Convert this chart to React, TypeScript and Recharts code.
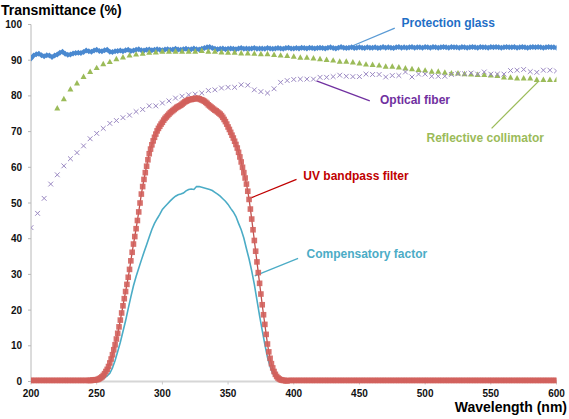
import { LineChart, Line, XAxis, YAxis, ReferenceLine } from "recharts";

// wavelength ticks and transmittance ticks
const xTicks = [200, 250, 300, 350, 400, 450, 500, 550, 600];
const yTicks = [0, 10, 20, 30, 40, 50, 60, 70, 80, 90, 100];

// Protection glass, 200-600 nm every 2 nm
const GLASS_START = 200;
const GLASS_STEP = 2;
const glassValues = [
  90.5, 91.3, 91.7, 91.8, 91.4, 91.1, 91.4, 91.3, 90.9, 91.3,
  91.6, 92.1, 92.4, 91.8, 91.5, 91.6, 91.9, 92.0, 92.1, 92.0,
  92.3, 92.7, 92.5, 92.4, 92.7, 92.9, 92.6, 92.5, 92.8, 92.9,
  92.4, 92.3, 92.5, 92.6, 92.7, 92.5, 92.8, 92.9, 92.6, 92.7,
  92.9, 93.1, 92.8, 92.7, 92.9, 93.0, 92.8, 92.9, 93.1, 92.9,
  92.8, 93.0, 93.1, 92.9, 93.0, 93.2, 93.0, 92.9, 93.1, 93.2,
  93.0, 93.1, 93.3, 93.1, 93.0, 93.2, 93.4, 93.6, 93.7, 93.4,
  93.2, 93.1, 93.2, 93.3, 93.1, 93.2, 93.3, 93.2, 93.1, 93.3,
  93.4, 93.2, 93.3, 93.2, 93.3, 93.4, 93.2, 93.3, 93.3, 93.2,
  93.4, 93.3, 93.2, 93.3, 93.4, 93.3, 93.2, 93.4, 93.5, 93.3,
  93.3, 93.4, 93.3, 93.5, 93.4, 93.3, 93.5, 93.4, 93.3, 93.4,
  93.5, 93.4, 93.3, 93.5, 93.6, 93.4, 93.3, 93.5, 93.7, 93.5,
  93.4, 93.5, 93.6, 93.4, 93.5, 93.6, 93.5, 93.4, 93.6, 93.5,
  93.5, 93.6, 93.4, 93.5, 93.7, 93.5, 93.6, 93.5, 93.4, 93.6,
  93.7, 93.5, 93.6, 93.5, 93.6, 93.7, 93.5, 93.6, 93.6, 93.5,
  93.7, 93.6, 93.5, 93.7, 93.6, 93.5, 93.6, 93.7, 93.6, 93.5,
  93.7, 93.6, 93.6, 93.5, 93.7, 93.6, 93.5, 93.6, 93.7, 93.6,
  93.5, 93.7, 93.6, 93.6, 93.5, 93.7, 93.6, 93.7, 93.6, 93.5,
  93.6, 93.7, 93.6, 93.6, 93.7, 93.5, 93.6, 93.7, 93.6, 93.5,
  93.6, 93.7, 93.6, 93.7, 93.6, 93.5, 93.6, 93.7, 93.6, 93.6,
  93.5,
];

// Reflective collimator, 220-600 nm every 5 nm
const COLL_START = 220;
const COLL_STEP = 5;
const collimatorValues = [
  76.6, 79.2, 81.9, 83.6, 85.4, 86.8, 87.9, 89.0, 89.6, 90.4,
  90.9, 91.4, 91.7, 91.9, 92.2, 92.3, 92.5, 92.5, 92.5, 92.5,
  92.5, 92.5, 92.7, 92.5, 92.5, 92.3, 92.2, 92.2, 92.0, 92.0,
  91.9, 91.8, 91.8, 91.6, 91.4, 91.3, 91.1, 90.8, 90.8, 90.6,
  90.4, 90.2, 90.0, 89.7, 89.7, 89.5, 89.2, 88.9, 88.8, 88.6,
  88.3, 88.3, 88.1, 87.8, 87.6, 87.4, 87.2, 86.9, 86.9, 86.6,
  86.4, 86.4, 86.2, 86.1, 86.0, 86.0, 85.8, 85.7, 85.3, 85.2,
  85.0, 85.0, 85.0, 84.6, 84.6, 84.6, 84.6,
];

// Optical fiber, 200-600 nm every 5 nm
const FIBER_START = 200;
const FIBER_STEP = 5;
const fiberValues = [
  43.1, 47.1, 51.3, 55.3, 57.9, 60.4, 62.4, 64.1, 66.0, 68.0,
  69.5, 70.9, 72.3, 73.1, 73.9, 74.6, 75.6, 76.2, 77.2, 77.2,
  78.0, 78.6, 79.4, 79.9, 80.3, 80.5, 80.8, 81.5, 81.7, 82.2,
  82.4, 82.4, 83.1, 83.0, 81.7, 81.2, 80.8, 82.0, 83.8, 84.3,
  84.6, 84.7, 84.7, 84.7, 85.2, 85.2, 85.4, 85.8, 85.5, 85.4,
  85.4, 86.1, 86.0, 86.0, 85.3, 85.7, 85.7, 86.7, 85.3, 86.1,
  86.1, 85.5, 85.5, 85.5, 86.0, 86.2, 86.2, 86.4, 86.1, 86.7,
  86.1, 86.1, 86.1, 87.1, 87.2, 87.4, 86.8, 86.6, 87.2, 87.2,
  87.0,
];

// UV bandpass filter: 200-244 every 2 nm, 245-395 every 1 nm, 396-600 every 2 nm
const uvLowValues = [
  0.3, 0.3, 0.3, 0.3, 0.3, 0.3, 0.3, 0.3, 0.3, 0.3, 0.3, 0.3,
  0.3, 0.3, 0.3, 0.3, 0.3, 0.3, 0.3, 0.3, 0.3, 0.3, 0.3,
];
const uvBandValues = [
  0.3, 0.3, 0.4, 0.4, 0.5, 0.5, 0.6, 0.8, 1.0, 1.3,
  1.7, 2.2, 2.8, 3.4, 4.2, 5.2, 6.3, 7.5, 8.9, 10.3,
  11.9, 13.5, 15.3, 17.2, 19.2, 21.2, 23.2, 25.2, 27.2, 29.2,
  31.4, 33.8, 36.2, 38.5, 40.6, 42.8, 45.1, 47.5, 50.0, 52.5,
  54.6, 56.6, 58.5, 60.3, 62.1, 63.8, 65.1, 66.3, 67.4, 68.4,
  69.3, 70.2, 70.9, 71.5, 72.1, 72.6, 73.2, 73.7, 74.1, 74.5,
  74.9, 75.3, 75.6, 75.9, 76.2, 76.5, 76.8, 77.0, 77.2, 77.4,
  77.7, 78.0, 78.3, 78.5, 78.7, 78.9, 79.0, 79.0, 79.1, 79.2,
  79.3, 79.3, 79.3, 79.2, 79.0, 78.9, 78.7, 78.5, 78.2, 77.9,
  77.5, 77.2, 76.9, 76.6, 76.3, 76.0, 75.8, 75.5, 75.2, 74.9,
  74.5, 74.0, 73.4, 72.8, 72.1, 71.3, 70.6, 69.8, 69.0, 68.2,
  67.3, 66.4, 65.4, 64.2, 62.9, 61.5, 60.0, 58.5, 57.0, 55.3,
  53.3, 51.0, 48.3, 45.5, 42.5, 39.5, 36.5, 33.5, 30.5, 27.5,
  24.5, 21.5, 18.7, 16.0, 13.2, 10.5, 8.3, 6.5, 5.0, 3.8,
  2.8, 2.0, 1.4, 1.0, 0.7, 0.5, 0.4, 0.3, 0.3, 0.2,
  0.2,
];
const uvHighValues = [
  0.3, 0.3, 0.3, 0.3, 0.3, 0.3, 0.3, 0.3, 0.3, 0.3, 0.3, 0.3, 0.3, 0.3, 0.3, 0.3, 0.3, 0.3, 0.3, 0.3,
  0.3, 0.3, 0.3, 0.3, 0.3, 0.3, 0.3, 0.3, 0.3, 0.3, 0.3, 0.3, 0.3, 0.3, 0.3, 0.3, 0.3, 0.3, 0.3, 0.3,
  0.3, 0.3, 0.3, 0.3, 0.3, 0.3, 0.3, 0.3, 0.3, 0.3, 0.3, 0.3, 0.3, 0.3, 0.3, 0.3, 0.3, 0.3, 0.3, 0.3,
  0.3, 0.3, 0.3, 0.3, 0.3, 0.3, 0.3, 0.3, 0.3, 0.3, 0.3, 0.3, 0.3, 0.3, 0.3, 0.3, 0.3, 0.3, 0.3, 0.3,
  0.3, 0.3, 0.3, 0.3, 0.3, 0.3, 0.3, 0.3, 0.3, 0.3, 0.3, 0.3, 0.3, 0.3, 0.3, 0.3, 0.3, 0.3, 0.3, 0.3,
  0.3, 0.3, 0.3,
];

// Compensatory factor, 220-600 nm every 2 nm
const COMP_START = 220;
const COMP_STEP = 2;
const compValues = [
  0, 0, 0, 0, 0, 0, 0, 0, 0, 0, 0, 0, 0, 0, 0,
  0.1, 0.3, 0.6, 1.0, 1.6, 2.3, 3.8, 5.9, 8.4, 11.0,
  14.0, 17.0, 20.4, 23.7, 26.8, 29.4, 31.7, 34.0, 36.2, 38.3,
  40.5, 42.6, 44.3, 45.6, 46.8, 48.2, 49.0, 49.8, 50.6, 51.3,
  51.9, 52.3, 52.5, 52.8, 53.4, 53.8, 53.9, 53.8, 54.6, 54.6,
  54.4, 54.2, 54.0, 53.8, 53.5, 53.0, 52.5, 51.9, 51.2, 50.5,
  49.6, 48.5, 47.5, 46.2, 44.3, 42.5, 40.2, 37.2, 34.3, 31.0,
  27.2, 22.8, 18.4, 14.3, 10.4, 6.8, 4.2, 2.3, 1.2, 0.5,
  0.2, 0.1,
  0, 0, 0, 0, 0, 0, 0, 0, 0, 0, 0, 0, 0, 0, 0, 0, 0, 0, 0, 0,
  0, 0, 0, 0, 0, 0, 0, 0, 0, 0, 0, 0, 0, 0, 0, 0, 0, 0, 0, 0,
  0, 0, 0, 0, 0, 0, 0, 0, 0, 0, 0, 0, 0, 0, 0, 0, 0, 0, 0, 0,
  0, 0, 0, 0, 0, 0, 0, 0, 0, 0, 0, 0, 0, 0, 0, 0, 0, 0, 0, 0,
  0, 0, 0, 0, 0, 0, 0, 0, 0, 0, 0, 0, 0, 0, 0, 0, 0, 0, 0, 0,
  0, 0, 0, 0,
];

const rows = (start: number, step: number, values: number[]) =>
  values.map((value, i) => ({ nm: start + i * step, value }));

const glassRows = rows(GLASS_START, GLASS_STEP, glassValues);
const collimatorRows = rows(COLL_START, COLL_STEP, collimatorValues);
const fiberRows = rows(FIBER_START, FIBER_STEP, fiberValues);
const uvRows = [
  ...rows(200, 2, uvLowValues),
  ...rows(245, 1, uvBandValues),
  ...rows(396, 2, uvHighValues),
];
const compRows = rows(COMP_START, COMP_STEP, compValues);

const FONT = "'Liberation Sans', Arial, sans-serif";

const diamondDot = (p: any) => {
  const { cx, cy, index } = p;
  if (cx == null || cy == null) return <g key={index} />;
  return (
    <polygon
      key={index}
      points={`${cx},${cy - 3} ${cx + 3},${cy} ${cx},${cy + 3} ${cx - 3},${cy}`}
      fill="#4a89d0"
    />
  );
};

const triangleDot = (p: any) => {
  const { cx, cy, index } = p;
  if (cx == null || cy == null) return <g key={index} />;
  return (
    <polygon
      key={index}
      points={`${cx},${cy - 3} ${cx + 3},${cy + 2.4} ${cx - 3},${cy + 2.4}`}
      fill="#9bbb59"
    />
  );
};

const crossDot = (p: any) => {
  const { cx, cy, index } = p;
  if (cx == null || cy == null) return <g key={index} />;
  return (
    <g key={index} stroke="#9a88c2" strokeWidth={1}>
      <line x1={cx - 2.4} y1={cy - 2.4} x2={cx + 2.4} y2={cy + 2.4} />
      <line x1={cx - 2.4} y1={cy + 2.4} x2={cx + 2.4} y2={cy - 2.4} />
    </g>
  );
};

const squareDot = (p: any) => {
  const { cx, cy, index } = p;
  if (cx == null || cy == null) return <g key={index} />;
  return (
    <rect
      key={index}
      x={cx - 2.8}
      y={cy - 2.8}
      width={5.6}
      height={5.6}
      fill="#d2605c"
      fillOpacity={0.9}
    />
  );
};

const tickStyle = { fontSize: 10, fontWeight: "bold", fill: "#111", fontFamily: FONT };

export default function App() {
  return (
    <div style={{ position: "absolute", left: 0, top: 0, width: 569, height: 419, background: "#fff" }}>
      <LineChart
        width={569}
        height={419}
        margin={{ top: 24.5, right: 12.5, bottom: 17.5, left: 0 }}
      >
        <XAxis
          type="number"
          dataKey="nm"
          domain={[200, 600]}
          ticks={xTicks}
          allowDataOverflow
          height={20}
          tickSize={3}
          tickMargin={5}
          tick={tickStyle}
          axisLine={{ stroke: "#d6d6d6", strokeWidth: 2 }}
          tickLine={{ stroke: "#c8c8c8" }}
        />
        <YAxis
          type="number"
          domain={[0, 100]}
          ticks={yTicks}
          width={31}
          tickSize={3}
          tickMargin={6}
          tick={tickStyle}
          axisLine={{ stroke: "#b8b8b8" }}
          tickLine={{ stroke: "#b8b8b8" }}
        />
        <Line
          data={glassRows}
          dataKey="value"
          type="linear"
          stroke="#4a89d0"
          strokeWidth={3}
          dot={diamondDot}
          activeDot={false}
          isAnimationActive={false}
        />
        <Line
          data={collimatorRows}
          dataKey="value"
          type="linear"
          stroke="none"
          dot={triangleDot}
          activeDot={false}
          isAnimationActive={false}
        />
        <Line
          data={fiberRows}
          dataKey="value"
          type="linear"
          stroke="none"
          dot={crossDot}
          activeDot={false}
          isAnimationActive={false}
        />
        <Line
          data={uvRows}
          dataKey="value"
          type="linear"
          stroke="#c0504d"
          strokeWidth={1.3}
          dot={squareDot}
          activeDot={false}
          isAnimationActive={false}
        />
        <Line
          data={compRows}
          dataKey="value"
          type="linear"
          stroke="#4bacc6"
          strokeWidth={1.6}
          dot={false}
          activeDot={false}
          isAnimationActive={false}
        />
        <ReferenceLine segment={[{ x: 442.7, y: 93.7 }, { x: 476.9, y: 99.0 }]} stroke="#5b9bd5" strokeWidth={1.3} ifOverflow="visible" />
        <ReferenceLine segment={[{ x: 417.3, y: 84.2 }, { x: 457.9, y: 78.6 }]} stroke="#7030a0" strokeWidth={1.3} ifOverflow="visible" />
        <ReferenceLine segment={[{ x: 550.6, y: 70.9 }, { x: 586.1, y: 84.0 }]} stroke="#9bbb59" strokeWidth={1.3} ifOverflow="visible" />
        <ReferenceLine segment={[{ x: 366.5, y: 51.3 }, { x: 402.1, y: 56.6 }]} stroke="#c00000" strokeWidth={1.3} ifOverflow="visible" />
        <ReferenceLine segment={[{ x: 370.3, y: 29.6 }, { x: 403.3, y: 34.5 }]} stroke="#4bacc6" strokeWidth={1.3} ifOverflow="visible" />
      </LineChart>
      <svg
        width={569}
        height={419}
        style={{ position: "absolute", left: 0, top: 0, pointerEvents: "none" }}
        fontFamily={FONT}
        fontWeight="bold"
      >
        <text x={1} y={15} fontSize={14} fill="#000">Transmittance (%)</text>
        <text x={567} y={412} fontSize={14} fill="#000" textAnchor="end">Wavelength (nm)</text>
        <text x={401.5} y={26.5} fontSize={12} fill="#1f6fc6">Protection glass</text>
        <text x={380} y={104} fontSize={12} fill="#7030a0">Optical fiber</text>
        <text x={426.5} y={142} fontSize={12} fill="#9bbb59">Reflective collimator</text>
        <text x={303.3} y={179.5} fontSize={12} fill="#c00000">UV bandpass filter</text>
        <text x={306.5} y={257.5} fontSize={12} fill="#4bacc6">Compensatory factor</text>
      </svg>
    </div>
  );
}
